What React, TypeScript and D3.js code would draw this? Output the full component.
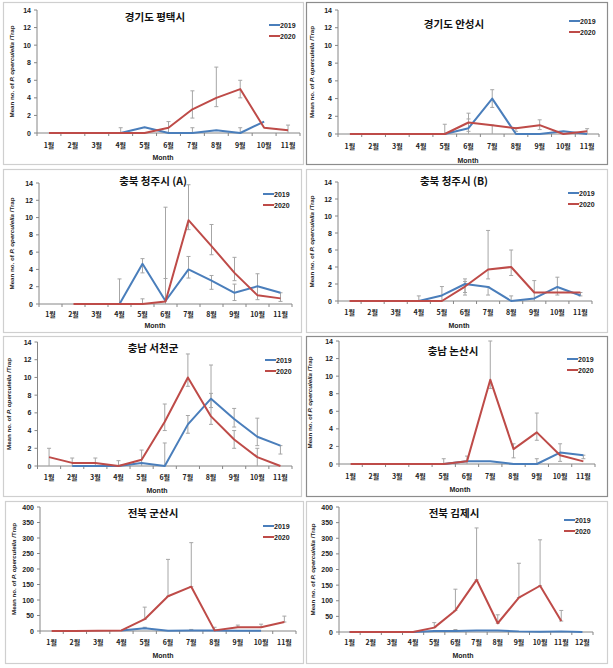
import React from "react";
import * as d3 from "d3";

const months11 = ["1월", "2월", "3월", "4월", "5월", "6월", "7월", "8월", "9월", "10월", "11월"];
const months12 = [...months11, "12월"];
const seriesNames = ["2019", "2020"];

type V = number | null;
// [month index, low, high]
type E = [number, number, number];

const titles = ["경기도 평택시", "경기도 안성시", "충북 청주시 (A)", "충북 청주시 (B)", "충남 서천군", "충남 논산시", "전북 군산시", "전북 김제시"];

const p1_2019: V[] = [null, null, null, 0, 0.65, 0, 0, 0.3, 0, 1.3, null];
const p1_2020: V[] = [0, 0, 0, 0, 0, 0.6, 2.7, 4.0, 5.0, 0.6, 0.3];
const p1_err: E[] = [[3, 0, 0.6], [5, 0, 1.3], [6, 1.7, 4.8], [6, 0, 0.6], [7, 3.0, 7.5], [8, 4.0, 6.0], [8, 0, 0.6], [10, 0, 0.9]];

const p2_2019: V[] = [null, null, null, null, 0, 0.65, 4.0, 0, 0, 0.3, 0];
const p2_2020: V[] = [0, 0, 0, 0, 0, 1.3, 1.0, 0.65, 1.0, 0, 0.3];
const p2_err: E[] = [[4, 0, 1.1], [5, 0.3, 2.35], [5, 0, 1.7], [6, 3.0, 5.0], [6, 0, 1.0], [7, 0.3, 0.7], [8, 0.5, 1.6], [10, 0, 0.6]];

const p3_2019: V[] = [null, null, null, 0, 4.65, 0.35, 4.0, 2.7, 1.3, 2.05, 1.3];
const p3_2020: V[] = [null, 0, 0, 0, 0, 0.3, 9.7, 6.7, 3.6, 1.0, 0.65];
const p3_err: E[] = [[3, 0, 2.9], [4, 3.6, 5.25], [4, 0, 0.6], [5, 0, 11.2], [5, 0, 2.95], [6, 8.6, 13.8], [6, 3.0, 5.5], [7, 5.7, 9.2], [7, 1.7, 3.3], [8, 2.7, 5.4], [8, 0.4, 2.3], [9, 0.5, 3.5], [10, 0.3, 1.3]];

const p4_2019: V[] = [null, null, null, 0, 0.65, 2.0, 1.65, 0, 0.3, 1.65, 0.65];
const p4_2020: V[] = [0, 0, 0, 0, 0, 1.7, 3.7, 4.0, 1.0, 1.0, 1.0];
const p4_err: E[] = [[3, 0, 0.6], [4, 0, 1.7], [5, 0.7, 2.6], [5, 1.0, 2.3], [6, 2.6, 8.3], [6, 0.7, 1.65], [7, 3.0, 6.0], [7, 0, 0.6], [8, 0, 2.4], [9, 0.7, 2.8], [10, 0.6, 1.0]];

const p5_2019: V[] = [null, 0, 0, 0, 0.35, 0, 4.7, 7.6, 5.3, 3.3, 2.3];
const p5_2020: V[] = [1.0, 0.35, 0.35, 0, 0.7, 5.0, 10.0, 5.6, 3.0, 1.0, 0];
const p5_err: E[] = [[0, 0, 2.0], [1, 0, 0.9], [2, 0, 0.9], [3, 0, 0.6], [4, 0, 1.8], [5, 4.0, 7.0], [5, 0, 2.6], [6, 9.0, 12.65], [6, 3.7, 5.7], [7, 6.6, 11.4], [7, 4.7, 8.2], [8, 4.4, 6.5], [8, 2.0, 4.0], [9, 2.3, 5.4], [9, 0, 2.0], [10, 1.35, 2.3]];

const p6_2019: V[] = [null, null, null, null, 0, 0.3, 0.3, 0, 0, 1.3, 1.0];
const p6_2020: V[] = [0, 0, 0, 0, 0, 0.3, 9.6, 1.7, 3.6, 1.0, 0.3];
const p6_err: E[] = [[4, 0, 0.6], [5, 0, 0.9], [6, 8.6, 14], [7, 0.7, 2.3], [8, 2.7, 5.8], [8, 0, 0.6], [9, 0.3, 2.3], [10, 0.6, 1.0]];

const p7_2019: V[] = [null, null, null, 2, 9, 1, 2, 2, 1, 1, null];
const p7_2020: V[] = [0, 0, 1, 2, 38, 112, 143, 2, 12, 12, 29];
const p7_err: E[] = [[4, 38, 77], [5, 112, 231], [6, 143, 285], [7, 2, 12], [8, 12, 19], [9, 12, 22], [10, 29, 48], [4, 9, 12], [6, 2, 5]];

const p8_2019: V[] = [0, 0, 0, 0, 3, 3, 5, 5, 2, 1, 2, 0];
const p8_2020: V[] = [0, 0, 0, 0, 14, 69, 167, 28, 110, 148, 35, null];
const p8_err: E[] = [[4, 14, 30], [5, 69, 137], [6, 167, 333], [7, 28, 55], [8, 110, 220], [9, 148, 295], [10, 35, 69], [5, 3, 8]];

const yTicksSmall = [0, 2, 4, 6, 8, 10, 12, 14];
const yTicksLarge = [0, 50, 100, 150, 200, 250, 300, 350, 400];

const C2019 = "#4a7ebb";
const C2020 = "#be4b48";
const ERR = "#a6a6a6";
const AXIS = "#868686";
const FONT = "'Liberation Sans', Arial, 'Noto Sans CJK KR', sans-serif";
const KFONT = "'Noto Sans CJK KR', 'Liberation Sans', sans-serif";

interface PanelCfg {
  box: [number, number, number, number];
  border: string;
  plot: [number, number, number, number]; // l, r, t, b
  cats: string[];
  s19: V[];
  s20: V[];
  err: E[];
  ticks: number[];
  title: string;
  titleXY: [number, number];
  legXY: [number, number];
  monthY: number;
  monthX: number;
  catY: number;
  ylabX: number;
}

const panels: PanelCfg[] = [
  { box: [3, 2, 300, 162], border: "#cfcfcf", plot: [37, 300, 10, 133], cats: months11, s19: p1_2019, s20: p1_2020, err: p1_err, ticks: yTicksSmall, title: titles[0], titleXY: [155, 21], legXY: [269, 25], monthY: 160, monthX: 163, catY: 148, ylabX: 14 },
  { box: [306, 2, 301, 162], border: "#8c8c8c", plot: [338, 599, 10, 134], cats: months11, s19: p2_2019, s20: p2_2020, err: p2_err, ticks: yTicksSmall, title: titles[1], titleXY: [454, 28], legXY: [569, 21], monthY: 163, monthX: 468, catY: 149, ylabX: 314 },
  { box: [3, 169, 298, 163], border: "#cfcfcf", plot: [39, 292, 183, 304], cats: months11, s19: p3_2019, s20: p3_2020, err: p3_err, ticks: yTicksSmall, title: titles[2], titleXY: [153, 185], legXY: [263, 194], monthY: 328, monthX: 155, catY: 317, ylabX: 14 },
  { box: [306, 169, 301, 163], border: "#cfcfcf", plot: [338, 592, 182, 301], cats: months11, s19: p4_2019, s20: p4_2020, err: p4_err, ticks: yTicksSmall, title: titles[3], titleXY: [454, 185], legXY: [568, 193], monthY: 328, monthX: 459, catY: 315, ylabX: 314 },
  { box: [3, 336, 298, 160], border: "#cfcfcf", plot: [37.5, 292, 342, 466], cats: months11, s19: p5_2019, s20: p5_2020, err: p5_err, ticks: yTicksSmall, title: titles[4], titleXY: [153, 352], legXY: [265, 360], monthY: 493, monthX: 157, catY: 480, ylabX: 11 },
  { box: [306, 336, 301, 160], border: "#8c8c8c", plot: [339, 595, 341, 464], cats: months11, s19: p6_2019, s20: p6_2020, err: p6_err, ticks: yTicksSmall, title: titles[5], titleXY: [453, 355], legXY: [567, 359], monthY: 492, monthX: 460, catY: 479, ylabX: 312 },
  { box: [5, 501, 298, 162], border: "#cfcfcf", plot: [40, 296, 507, 631], cats: months11, s19: p7_2019, s20: p7_2020, err: p7_err, ticks: yTicksLarge, title: titles[6], titleXY: [153, 517], legXY: [263, 526], monthY: 658, monthX: 163, catY: 645, ylabX: 16 },
  { box: [306, 501, 301, 162], border: "#cfcfcf", plot: [339, 593, 507, 632], cats: months12, s19: p8_2019, s20: p8_2020, err: p8_err, ticks: yTicksLarge, title: titles[7], titleXY: [454, 517], legXY: [564, 520], monthY: 658, monthX: 463, catY: 645, ylabX: 315 },
];

function Panel({ p }: { p: PanelCfg }) {
  const [l, r, t, b] = p.plot;
  const x = d3.scaleBand<string>().domain(p.cats).range([l, r]);
  const yMax = p.ticks[p.ticks.length - 1];
  const y = d3.scaleLinear().domain([0, yMax]).range([b, t]);
  const cx = (i: number) => (x(p.cats[i]) as number) + x.bandwidth() / 2;
  const line = d3
    .line<V>()
    .defined((d) => d !== null)
    .x((_, i) => cx(i))
    .y((d) => y(d as number));
  const boundaries = p.cats.map((c) => x(c) as number).concat([r]);
  return (
    <g>
      <rect x={p.box[0] + 0.5} y={p.box[1] + 0.5} width={p.box[2]} height={p.box[3]} fill="#fff" stroke={p.border} strokeWidth={1.2} />
      {/* y axis */}
      <line x1={l} x2={l} y1={t} y2={b} stroke={AXIS} strokeWidth={1} />
      {p.ticks.map((tv) => (
        <g key={tv}>
          <line x1={l - 3} x2={l} y1={y(tv)} y2={y(tv)} stroke={AXIS} />
          <text x={l - 6} y={y(tv) + 2.5} textAnchor="end" fontSize={7} fontWeight="bold" fontFamily={FONT} fill="#222">
            {tv}
          </text>
        </g>
      ))}
      {/* x axis */}
      <line x1={l} x2={r} y1={b} y2={b} stroke={AXIS} strokeWidth={1} />
      {boundaries.map((bx, i) => (
        <line key={i} x1={bx} x2={bx} y1={b} y2={b + 3} stroke={AXIS} />
      ))}
      {p.cats.map((c, i) => (
        <text key={c} x={cx(i)} y={p.catY} textAnchor="middle" fontSize={7} fontWeight="bold" fontFamily={KFONT} fill="#222">
          {c}
        </text>
      ))}
      <text x={p.monthX} y={p.monthY} textAnchor="middle" fontSize={7} fontWeight="bold" fontFamily={FONT} fill="#222">
        Month
      </text>
      <text
        transform={`translate(${p.ylabX},${(t + b) / 2}) rotate(-90)`}
        textAnchor="middle"
        fontSize={6.2}
        fontWeight="bold"
        fontFamily={FONT}
        fill="#222"
      >
        Mean no. of <tspan fontStyle="italic">P. operculella</tspan> /Trap
      </text>
      {/* error bars */}
      {p.err.map(([i, lo, hi], k) => (
        <g key={k} stroke={ERR} strokeWidth={1}>
          <line x1={cx(i)} x2={cx(i)} y1={y(lo)} y2={y(hi)} />
          <line x1={cx(i) - 2} x2={cx(i) + 2} y1={y(hi)} y2={y(hi)} />
          {lo > 0 && <line x1={cx(i) - 2} x2={cx(i) + 2} y1={y(lo)} y2={y(lo)} />}
        </g>
      ))}
      <path d={line(p.s19) || ""} fill="none" stroke={C2019} strokeWidth={2} strokeLinejoin="round" />
      <path d={line(p.s20) || ""} fill="none" stroke={C2020} strokeWidth={2} strokeLinejoin="round" />
      {/* title */}
      <text x={p.titleXY[0]} y={p.titleXY[1]} textAnchor="middle" fontSize={10.5} fontWeight="bold" fontFamily={KFONT} fill="#111">
        {p.title}
      </text>
      {/* legend */}
      {seriesNames.map((s, k) => {
        const ly = p.legXY[1] + k * 11;
        return (
          <g key={s}>
            <line x1={p.legXY[0]} x2={p.legXY[0] + 11} y1={ly} y2={ly} stroke={k === 0 ? C2019 : C2020} strokeWidth={2} />
            <text x={p.legXY[0] + 11} y={ly + 2.5} fontSize={7} fontWeight="bold" fontFamily={FONT} fill="#222">
              {s}
            </text>
          </g>
        );
      })}
    </g>
  );
}

export default function App() {
  return (
    <svg width={613} height={668} style={{ position: "absolute", left: 0, top: 0, background: "#fff" }}>
      <rect x={0} y={0} width={613} height={668} fill="#fff" />
      {panels.map((p, i) => (
        <Panel key={i} p={p} />
      ))}
    </svg>
  );
}
